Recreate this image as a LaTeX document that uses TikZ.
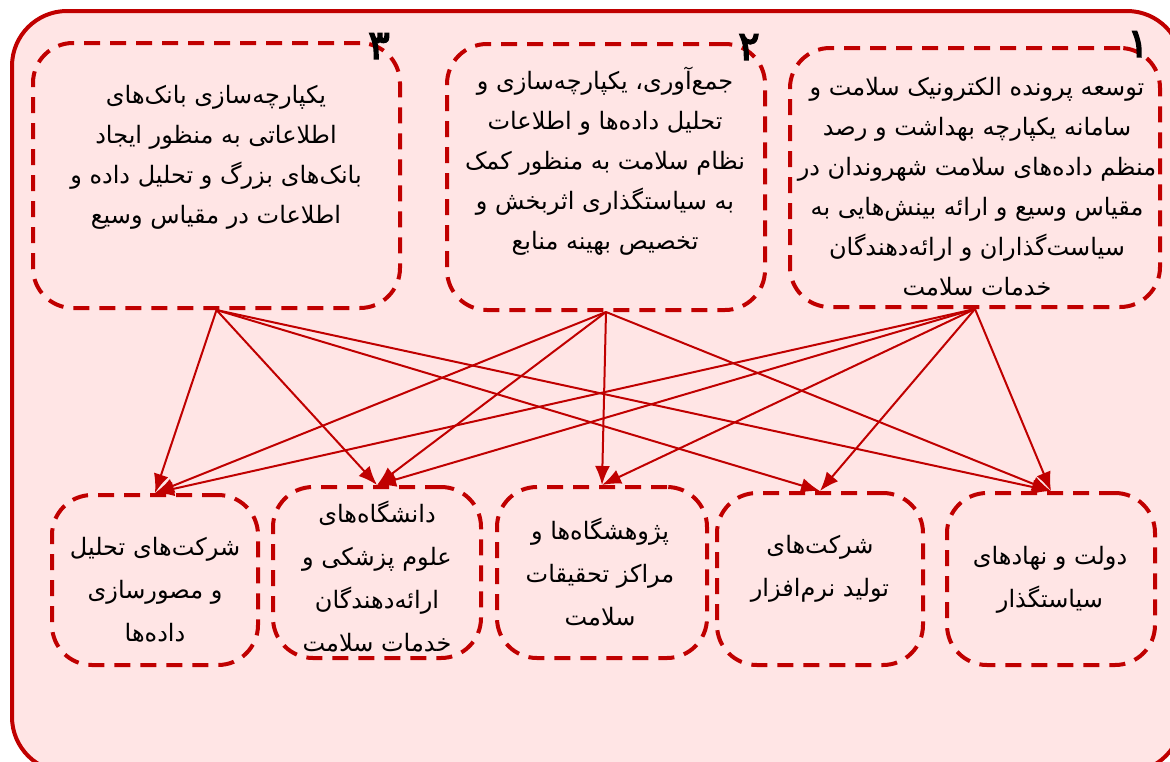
\documentclass[tikz,border=0pt]{standalone}
\usepackage{fontspec}
\usetikzlibrary{arrows.meta}
\TeXXeTstate=1
\newfontfamily\arabicfont[Script=Arabic]{DejaVu Sans}
\newfontfamily\numfont[Script=Arabic,FakeBold=4]{DejaVu Sans}
\definecolor{darkred}{HTML}{C00000}
\definecolor{lightpink}{HTML}{FFE5E5}
\newcommand{\rl}[1]{\beginR#1\endR}
\tikzset{
  dbox/.style={draw=darkred, line width=4pt, dash pattern=on 16pt off 10pt, rounded corners=40pt},
  txt/.style={align=center, font=\fontsize{24}{40}\arabicfont},
  lowtxt/.style={txt, font=\fontsize{24}{43}\arabicfont},
  num/.style={font=\fontsize{40}{40}\numfont},
  arr/.style={draw=darkred, line width=2pt, -{Latex[length=19pt,width=15pt]}}
}
\begin{document}
\begin{tikzpicture}[x=1pt,y=-1pt]
  \useasboundingbox (0,0) rectangle (1170,761);
  \draw[darkred, line width=4pt, fill=lightpink, rounded corners=55pt] (12,11) rectangle (1182,772);

  \node[dbox, minimum width=367pt, minimum height=265pt] (goal3) at (216.5,175.5) {};
  \node[dbox, minimum width=318pt, minimum height=266pt] (goal2) at (606,177) {};
  \node[dbox, minimum width=370pt, minimum height=259pt] (goal1) at (975,177.5) {};
  \node[num] (num3) at (379,46) {\rl{۳}};
  \node[num] (num2) at (749,47) {\rl{۲}};
  \node[num] (num1) at (1138,44) {\rl{۱}};
  \node[txt] (goal3txt) at (216,157) {\rl{یکپارچه^^^^200cسازی بانک^^^^200cهای}\\\rl{اطلاعاتی به منظور ایجاد}\\\rl{بانک^^^^200cهای بزرگ و تحلیل داده و}\\\rl{اطلاعات در مقیاس وسیع}};
  \node[txt] (goal2txt) at (605,161) {\rl{جمع^^^^200cآوری، یکپارچه^^^^200cسازی و}\\\rl{تحلیل داده^^^^200cها و اطلاعات}\\\rl{نظام سلامت به منظور کمک}\\\rl{به سیاستگذاری اثربخش و}\\\rl{تخصیص بهینه منابع}};
  \node[txt] (goal1txt) at (977,187) {\rl{توسعه پرونده الکترونیک سلامت و}\\\rl{سامانه یکپارچه بهداشت و رصد}\\\rl{منظم داده^^^^200cهای سلامت شهروندان در}\\\rl{مقیاس وسیع و ارائه بینش^^^^200cهایی به}\\\rl{سیاست^^^^200cگذاران و ارائه^^^^200cدهندگان}\\\rl{خدمات سلامت}};

  \node[dbox, minimum width=206pt, minimum height=170pt] (analytics) at (155,580) {};
  \node[dbox, minimum width=208pt, minimum height=171pt] (univ) at (377,572.5) {};
  \node[dbox, minimum width=210pt, minimum height=171pt] (research) at (602,572.5) {};
  \node[dbox, minimum width=206pt, minimum height=172pt] (software) at (820,579) {};
  \node[dbox, minimum width=208pt, minimum height=172pt] (gov) at (1051,579) {};
  \node[lowtxt] (analyticstxt) at (155,590) {\rl{شرکت^^^^200cهای تحلیل}\\\rl{و مصورسازی}\\\rl{داده^^^^200cها}};
  \node[lowtxt] (univtxt) at (377,577) {\rl{دانشگاه^^^^200cهای}\\\rl{علوم پزشکی و}\\\rl{ارائه^^^^200cدهندگان}\\\rl{خدمات سلامت}};
  \node[lowtxt] (researchtxt) at (600,572) {\rl{پژوهشگاه^^^^200cها و}\\\rl{مراکز تحقیقات}\\\rl{سلامت}};
  \node[lowtxt] (softwaretxt) at (820,569) {\rl{شرکت^^^^200cهای}\\\rl{تولید نرم^^^^200cافزار}};
  \node[lowtxt] (govtxt) at (1050,580) {\rl{دولت و نهادهای}\\\rl{سیاستگذار}};

  \foreach \s/\t in {goal3/analytics,goal3/univ,goal3/software,goal3/gov,
                     goal2/analytics,goal2/univ,goal2/research,goal2/gov,
                     goal1/analytics,goal1/univ,goal1/research,goal1/software,goal1/gov}
    \draw[arr] (\s.south) -- (\t.north);
\end{tikzpicture}
\end{document}
